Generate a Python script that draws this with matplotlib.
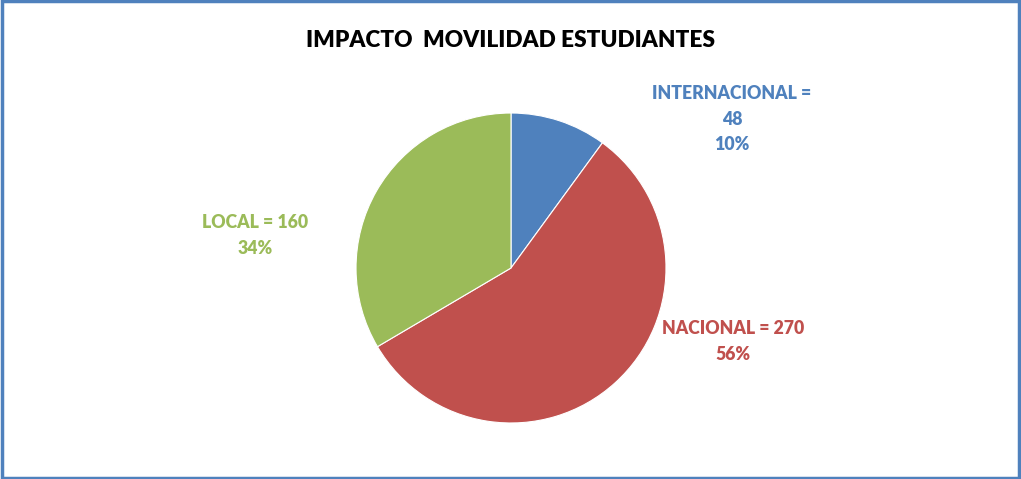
import matplotlib.pyplot as plt
from matplotlib.patches import Rectangle

# data
categories = ['INTERNACIONAL', 'NACIONAL', 'LOCAL']
values = [48, 270, 160]
pct_labels = ['10%', '56%', '34%']
colors = ['#4F81BD', '#C0504D', '#9BBB59']

plt.rcParams['font.family'] = ['Lato', 'DejaVu Sans']

fig = plt.figure(figsize=(10.21, 4.79), dpi=100)
ax = fig.add_axes([0.3487, 0.1169, 0.3036, 0.6472])

ax.pie(values, colors=colors, startangle=90, counterclock=False,
       wedgeprops={'edgecolor': 'white', 'linewidth': 0.8})
ax.set_xlim(-1, 1)
ax.set_ylim(-1, 1)
ax.set_aspect('equal')

# label text for each slice
texts = [
    categories[0] + ' =\n' + str(values[0]) + '\n' + pct_labels[0],
    categories[1] + ' = ' + str(values[1]) + '\n' + pct_labels[1],
    categories[2] + ' = ' + str(values[2]) + '\n' + pct_labels[2],
]
label_pos = [(1.426, 0.961), (1.432, -0.476), (-1.652, 0.211)]
for t, (x, y), c in zip(texts, label_pos, colors):
    ax.text(x, y, t, ha='center', va='center', color=c, fontsize=12.7,
            fontweight='heavy', linespacing=1.62, clip_on=False)

fig.text(0.5, 1 - 40.5 / 479, 'IMPACTO  MOVILIDAD ESTUDIANTES', ha='center',
         va='center', fontsize=16.3, fontweight='heavy', color='black')

# blue frame
fig.patches.append(Rectangle((0.0015, 0.003), 0.997, 0.994, transform=fig.transFigure,
                             fill=False, edgecolor='#4F81BD', linewidth=2.5))

fig.savefig('out.png', dpi=100)
